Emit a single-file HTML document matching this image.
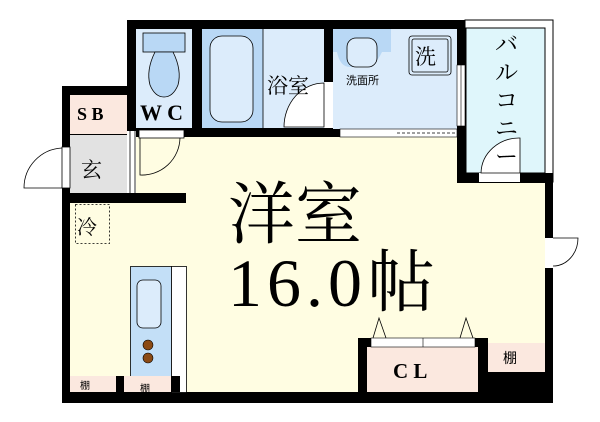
<!DOCTYPE html>
<html><head><meta charset="utf-8"><style>
html,body{margin:0;padding:0;background:#fff;width:600px;height:422px;overflow:hidden}
svg{display:block}
text{font-family:"Liberation Serif","Noto Serif CJK SC",serif}
.s{font-family:"Liberation Sans","Noto Sans CJK JP",sans-serif}
</style></head><body>
<svg width="600" height="422" viewBox="0 0 600 422" xmlns="http://www.w3.org/2000/svg">
<!-- black walls base -->
<rect x="127" y="20" width="338" height="118" fill="#000"/>
<rect x="62" y="86" width="75" height="117" fill="#000"/>
<rect x="62" y="137" width="491" height="266" fill="#000"/>
<!-- floor -->
<rect x="70" y="137" width="475" height="255" fill="#fffde2"/>
<!-- balcony -->
<rect x="465" y="20" width="88" height="162" fill="#fff" stroke="#000" stroke-width="1"/>
<rect x="466" y="28" width="79" height="145" fill="#dff6fb" stroke="#000" stroke-width="1"/>
<rect x="70" y="193" width="116" height="10" fill="#000"/>
<rect x="457" y="128" width="9" height="55" fill="#000"/>
<rect x="457" y="173" width="96" height="10" fill="#000"/>
<rect x="545" y="173" width="8" height="230" fill="#000"/>
<!-- SB / entrance -->
<rect x="70" y="95" width="57" height="39" fill="#fbe8df"/>
<rect x="70" y="135" width="57" height="58" fill="#e2e2e2"/>
<line x1="70" y1="134.5" x2="127" y2="134.5" stroke="#000"/>
<rect x="127" y="131" width="9" height="62" fill="#fff"/>
<line x1="130" y1="131" x2="130" y2="193" stroke="#000" stroke-width="0.8"/>
<line x1="135" y1="131" x2="135" y2="193" stroke="#000" stroke-width="0.8"/>
<rect x="62" y="147" width="8" height="41" fill="#fff" stroke="#000" stroke-width="0.8"/>
<path d="M62 148 A40 40 0 0 0 24 188 L62 188" fill="none" stroke="#000" stroke-width="0.8"/>
<!-- door from entrance into room -->
<rect x="139" y="130" width="45" height="8" fill="#fff" stroke="#000" stroke-width="0.8"/>
<path d="M140 138 L140 175 A38 38 0 0 0 180 138" fill="none" stroke="#000" stroke-width="0.8"/>
<!-- WC -->
<rect x="136" y="29" width="56" height="99" fill="#dcecfb"/>
<rect x="143" y="33" width="42" height="19" fill="#b9d8f5" stroke="#000" stroke-width="0.8"/>
<path d="M155 52 Q146 70 150 85 Q155 97 164 97 Q173 97 178 85 Q182 70 173 52 Z" fill="#b9d8f5" stroke="#000" stroke-width="0.8"/>
<!-- bath -->
<rect x="202" y="29" width="61" height="99" fill="#b9d8f5"/>
<rect x="210" y="36" width="43" height="86" rx="12" fill="#dcecfb" stroke="#000" stroke-width="0.8"/>
<rect x="263" y="29" width="61" height="99" fill="#dcecfb"/>
<line x1="263" y1="29" x2="263" y2="128" stroke="#000" stroke-width="0.8"/>
<rect x="324" y="82" width="9" height="46" fill="#fff"/>
<path d="M284 127 A40 44 0 0 1 324 83 L324 127 Z" fill="#fff" stroke="#000" stroke-width="0.8"/>
<!-- washroom -->
<rect x="333" y="29" width="124" height="100" fill="#dcecfb"/>
<path d="M333 29 L391 29 L391 52 L382 52 Q375 67 364 67 L350 67 Q340 67 337 52 L333 52 Z" fill="#b9d8f5"/>
<rect x="347" y="38" width="30" height="29" rx="9" fill="#dcecfb" stroke="#000" stroke-width="0.8"/>
<rect x="409" y="36" width="42" height="39" rx="3" fill="none" stroke="#000" stroke-width="0.8"/>
<rect x="412" y="39" width="36" height="33" rx="2" fill="#dcecfb" stroke="#000" stroke-width="0.8"/>
<rect x="340" y="129" width="117" height="8" fill="#fff" stroke="#000" stroke-width="0.6"/>
<line x1="397" y1="133" x2="457" y2="133" stroke="#000" stroke-width="0.8" stroke-dasharray="3,2"/>
<rect x="457" y="65" width="8" height="61" fill="#fff" stroke="#000" stroke-width="0.6"/>
<line x1="461" y1="65" x2="461" y2="126" stroke="#000" stroke-width="0.6"/>
<!-- balcony door -->
<rect x="479" y="173" width="41" height="9" fill="#fff"/>
<path d="M481 173 A38 36 0 0 1 520 138 L520 173 Z" fill="#fff" stroke="#000" stroke-width="0.8"/>
<!-- right door -->
<rect x="545" y="238" width="8" height="30" fill="#fff"/>
<path d="M553 238 L578 238 A25 28 0 0 1 553 266" fill="none" stroke="#000" stroke-width="0.8"/>
<!-- fridge -->
<rect x="75.5" y="204.5" width="34" height="39" fill="none" stroke="#000" stroke-width="0.8" stroke-dasharray="2,2"/>
<!-- kitchen -->
<rect x="130.5" y="266.5" width="41" height="110" fill="#c3dff7" stroke="#000" stroke-width="0.8"/>
<rect x="171.5" y="266.5" width="15" height="126" fill="#fff" stroke="#000" stroke-width="0.8"/>
<rect x="137" y="280" width="24" height="48" rx="6" fill="#dcecfb" stroke="#000" stroke-width="0.8"/>
<circle cx="148" cy="345" r="5" fill="#8b4a14" stroke="#000" stroke-width="0.6"/>
<circle cx="148" cy="358" r="5" fill="#8b4a14" stroke="#000" stroke-width="0.6"/>
<rect x="70" y="376" width="46" height="16" fill="#fbe8df"/>
<rect x="116" y="376" width="8" height="16" fill="#000"/>
<rect x="124" y="376" width="47" height="16" fill="#fbe8df"/>
<rect x="171" y="376" width="9" height="16" fill="#000"/>
<!-- CL -->
<rect x="358" y="338" width="130" height="55" fill="#000"/>
<rect x="367" y="347" width="111" height="45" fill="#fbe8df"/>
<rect x="371" y="338" width="104" height="9" fill="#fff" stroke="#000" stroke-width="0.6"/>
<line x1="423" y1="338" x2="423" y2="347" stroke="#000" stroke-width="0.6"/>
<path d="M373 338 L379 318 L386 338 M460 338 L466 318 L473 338" fill="none" stroke="#000" stroke-width="0.8"/>
<rect x="488" y="343" width="57" height="49" fill="#000"/>
<rect x="488" y="343" width="57" height="29" fill="#fbe8df"/>
<!-- labels -->
<text x="77" y="120" font-size="18" font-weight="bold">S B</text>
<text x="140" y="120" font-size="22" font-weight="bold">W C</text>
<text x="81" y="177" font-size="21">玄</text>
<text x="77" y="234" font-size="20">冷</text>
<text x="267" y="93" font-size="21">浴室</text>
<text x="346" y="84" font-size="11" class="s">洗面所</text>
<text x="415" y="64" font-size="21">洗</text>
<g font-size="23">
<text x="495" y="52">バ</text><text x="495" y="80">ル</text><text x="495" y="108">コ</text><text x="495" y="136">ニ</text><text x="495" y="164">ー</text>
</g>
<text x="228" y="238" font-size="68" textLength="134" lengthAdjust="spacingAndGlyphs">洋室</text>
<text x="228" y="306" font-size="68" textLength="207" lengthAdjust="spacing">16.0帖</text>
<text x="393" y="378" font-size="21" font-weight="bold">C L</text>
<text x="503" y="363" font-size="14" class="s">棚</text>
<text x="80" y="389" font-size="10" class="s">棚</text>
<text x="140" y="392" font-size="10" class="s">棚</text>
</svg>
</body></html>
